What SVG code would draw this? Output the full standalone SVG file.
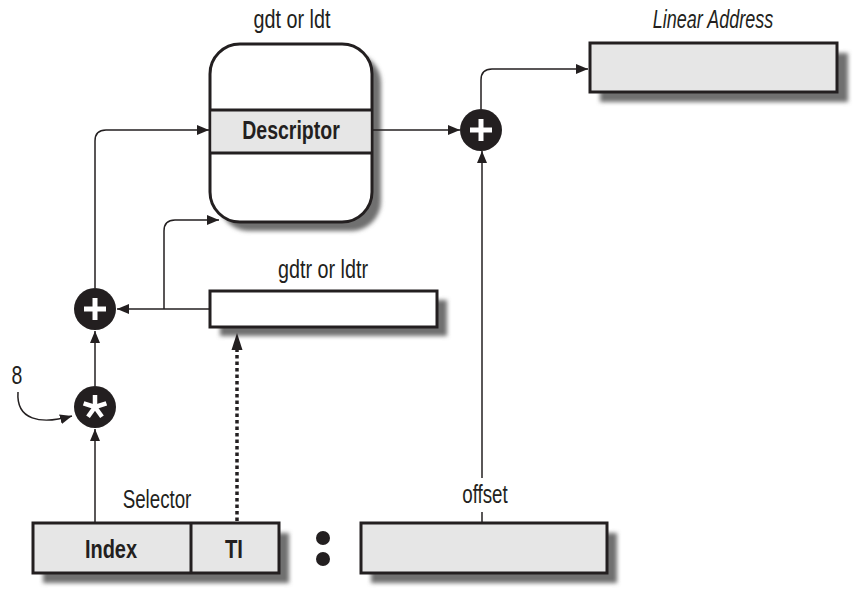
<svg xmlns="http://www.w3.org/2000/svg" width="860" height="600" viewBox="0 0 860 600">
<style>
.lbl{font-family:"Liberation Sans",Arial,sans-serif;font-size:25px;fill:#231f20;text-anchor:middle}
.bold{font-weight:bold}
.it{font-style:italic}
.box{stroke:#231f20;stroke-width:3}
.shadow{fill:#6f6f6f;filter:url(#blur)}
.con{fill:none;stroke:#231f20;stroke-width:1.5}
.op{fill:#231f20}
.sym{stroke:#fff;stroke-width:5;stroke-linecap:butt}
</style>
<defs>
<filter id="blur" x="-10%" y="-30%" width="120%" height="160%"><feGaussianBlur stdDeviation="2"/></filter>
<marker id="ah" viewBox="0 0 12 10" refX="12" refY="5" markerWidth="12" markerHeight="10" markerUnits="userSpaceOnUse" orient="auto"><path d="M0,0 L12,5 L0,10 Z" fill="#231f20"/></marker>
</defs>

<g id="descriptor-table">
<rect class="shadow" x="219" y="53" width="162" height="178" rx="30"/>
<rect class="box" x="210" y="44" width="162" height="178" rx="30" fill="#fff"/>
<rect x="211.5" y="110" width="159" height="43" fill="#e6e6e6"/>
<line class="box" x1="210" y1="110" x2="372" y2="110"/>
<line class="box" x1="210" y1="153" x2="372" y2="153"/>
<text class="lbl bold" transform="translate(291,139) scale(0.78,1)">Descriptor</text>
<text class="lbl" transform="translate(292,28) scale(0.79,1)">gdt or ldt</text>
</g>

<g id="linear-address">
<rect class="shadow" x="600" y="53" width="248" height="49"/>
<rect class="box" x="590" y="43" width="247" height="49" fill="#e6e6e6"/>
<text class="lbl it" transform="translate(713,28) scale(0.72,1)">Linear Address</text>
</g>

<g id="gdtr">
<rect class="shadow" x="220" y="300" width="227" height="36"/>
<rect class="box" x="210" y="291" width="227" height="36" fill="#fff"/>
<text class="lbl" transform="translate(323,278) scale(0.79,1)">gdtr or ldtr</text>
</g>

<g id="selector">
<rect class="shadow" x="43" y="533" width="246" height="50"/>
<rect class="box" x="33" y="523" width="246" height="50" fill="#e6e6e6"/>
<line class="box" x1="191" y1="523" x2="191" y2="573"/>
<text class="lbl bold" transform="translate(111,558) scale(0.8,1)">Index</text>
<text class="lbl bold" transform="translate(234,558) scale(0.81,1)">TI</text>
<text class="lbl" transform="translate(157,508) scale(0.75,1)">Selector</text>
</g>

<g id="colon">
<circle cx="323" cy="538" r="7" fill="#231f20"/>
<circle cx="323" cy="559" r="7" fill="#231f20"/>
</g>

<g id="offset">
<rect class="shadow" x="371" y="533" width="246" height="50"/>
<rect class="box" x="361" y="523" width="246" height="50" fill="#e6e6e6"/>
<text class="lbl" transform="translate(485,503) scale(0.75,1)">offset</text>
</g>

<g id="plus-left">
<circle class="op" cx="95" cy="309" r="21"/>
<line class="sym" x1="84" y1="309" x2="106" y2="309"/>
<line class="sym" x1="95" y1="298" x2="95" y2="320"/>
</g>

<g id="plus-right">
<circle class="op" cx="481" cy="130" r="21"/>
<line class="sym" x1="470" y1="130" x2="492" y2="130"/>
<line class="sym" x1="481" y1="119" x2="481" y2="141"/>
</g>

<g id="times">
<circle class="op" cx="95" cy="407" r="21"/>
<g stroke="#fff" stroke-width="4.5">
<line x1="95" y1="407" x2="95" y2="395"/>
<line x1="95" y1="407" x2="106.4" y2="403.3"/>
<line x1="95" y1="407" x2="83.6" y2="403.3"/>
<line x1="95" y1="407" x2="102" y2="416.7"/>
<line x1="95" y1="407" x2="88" y2="416.7"/>
</g>
</g>

<g id="eight">
<text class="lbl" transform="translate(17,384) scale(0.78,1)">8</text>
</g>

<g id="connectors">
<path class="con" d="M95,288 V141 Q95,130 106,130 H209" marker-end="url(#ah)"/>
<path class="con" d="M164,309 V231 Q164,220 175,220 H219" marker-end="url(#ah)"/>
<path class="con" d="M210,309 H117" marker-end="url(#ah)"/>
<path class="con" d="M373,130 H460" marker-end="url(#ah)"/>
<path class="con" d="M481,109 V80 Q481,69 492,69 H588" marker-end="url(#ah)"/>
<path class="con" d="M482,522 V512"/>
<path class="con" d="M482,478 V151" marker-end="url(#ah)"/>
<path class="con" d="M95,522 V429" marker-end="url(#ah)"/>
<path class="con" d="M95,386 V331" marker-end="url(#ah)"/>
<path fill="none" stroke="#231f20" stroke-width="3.5" stroke-dasharray="3.5,3" d="M237,521 V348"/>
<path d="M237,333 L231.5,350 L242.5,350 Z" fill="#231f20"/>
<path class="con" d="M18,392 C16,420 40,425 72,416" marker-end="url(#ah)"/>
</g>
</svg>
